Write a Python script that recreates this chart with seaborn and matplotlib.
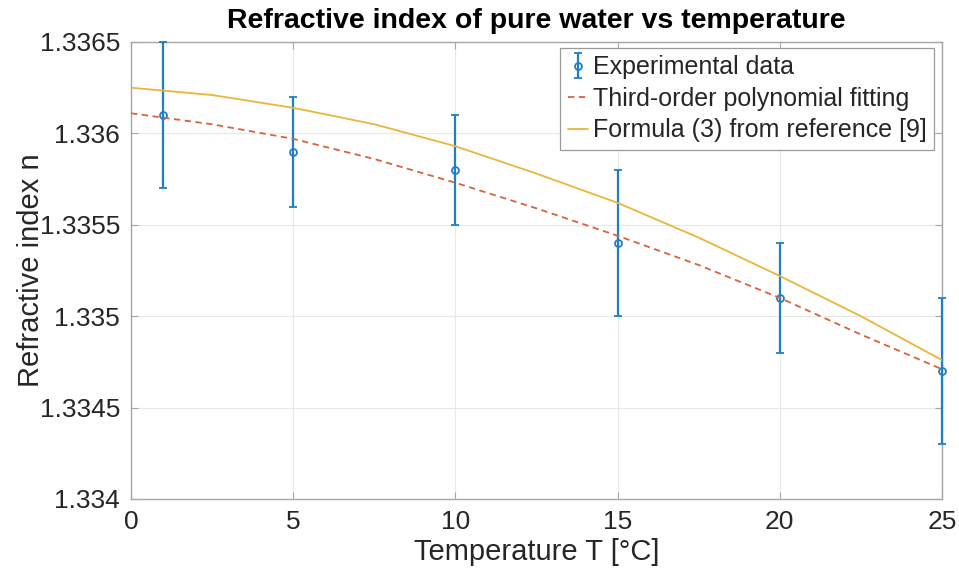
import numpy as np
import pandas as pd
import matplotlib
matplotlib.use("Agg")
import matplotlib.pyplot as plt
import seaborn as sns

# ---- data ----
temp_exp = [1, 5, 10, 15, 20, 25]
n_exp = [1.3361, 1.3359, 1.3358, 1.3354, 1.3351, 1.3347]
n_err = [0.0004, 0.0003, 0.0003, 0.0004, 0.0003, 0.0004]

temp_curve = [0, 2.5, 5, 7.5, 10, 12.5, 15, 17.5, 20, 22.5, 25]
n_poly = [1.33611, 1.33605, 1.33597, 1.33586, 1.33573, 1.33559,
          1.33544, 1.33528, 1.33510, 1.33490, 1.33471]
n_formula = [1.33625, 1.33621, 1.33614, 1.33605, 1.33593, 1.33578,
             1.33562, 1.33543, 1.33522, 1.33500, 1.33476]

x_ticks = [0, 5, 10, 15, 20, 25]
y_ticks = [1.334, 1.3345, 1.335, 1.3355, 1.336, 1.3365]
y_tick_labels = ["1.334", "1.3345", "1.335", "1.3355", "1.336", "1.3365"]

labels = ["Experimental data", "Third-order polynomial fitting",
          "Formula (3) from reference [9]"]

sns.set_theme(style="white")
plt.rcParams["font.family"] = ["Liberation Sans", "DejaVu Sans"]

c_blue = "#1f7fc4"
c_orange = "#D9623A"
c_yellow = "#EBB53A"

fig = plt.figure(figsize=(9.59, 5.75), dpi=100)
ax = fig.add_axes([131 / 959, 1 - 499 / 575, (942 - 131) / 959, (499 - 42) / 575])

df_curve = pd.DataFrame({"T": temp_curve, "poly": n_poly, "formula": n_formula})

eb = ax.errorbar(temp_exp, n_exp, yerr=n_err, fmt="o", color=c_blue,
                 markersize=5, markerfacecolor="none", markeredgewidth=1.3,
                 elinewidth=1.6, capsize=3, capthick=1.3, zorder=3)
for artist in [eb.lines[0], *eb.lines[1], *eb.lines[2]]:
    artist.set_clip_on(False)
sns.lineplot(data=df_curve, x="T", y="poly", ax=ax, color=c_orange,
             linestyle=(0, (3.5, 2.5)), linewidth=1.3, zorder=4)
sns.lineplot(data=df_curve, x="T", y="formula", ax=ax, color=c_yellow,
             linewidth=1.3, zorder=4)

ax.set_xlim(0, 25)
ax.set_ylim(1.334, 1.3365)
ax.set_xticks(x_ticks)
ax.set_xticklabels([str(t) for t in x_ticks])
ax.set_yticks(y_ticks)
ax.set_yticklabels(y_tick_labels)

ax.grid(True, color="#e8e8e8", linewidth=0.8)
ax.set_axisbelow(True)
for s in ax.spines.values():
    s.set_color("#a6a6a6")
    s.set_linewidth(1.0)
ax.tick_params(direction="in", length=5, width=0.8, color="#a6a6a6",
               top=True, right=True, bottom=True, left=True,
               labelsize=19, labelcolor="#262626", pad=8)

ax.set_xlabel("Temperature T [°C]", fontsize=21, color="#262626", labelpad=3)
ax.set_ylabel("Refractive index n", fontsize=21, color="#262626", labelpad=-4)
ax.set_title("Refractive index of pure water vs temperature",
             fontsize=20.5, fontweight="bold", color="#000000", pad=10)

lines = ax.get_lines()
handles = [eb, lines[-2], lines[-1]]
leg = ax.legend(handles, labels, loc="upper right",
                bbox_to_anchor=(0.99, 0.987), borderaxespad=0,
                fontsize=18, frameon=True, fancybox=False,
                handlelength=0.8, handletextpad=0.2, borderpad=0.3,
                labelspacing=0.3, edgecolor="#9a9a9a", framealpha=1)
leg.get_frame().set_linewidth(0.9)
for t in leg.get_texts():
    t.set_color("#262626")

fig.savefig("out.png", dpi=100, facecolor="white")
